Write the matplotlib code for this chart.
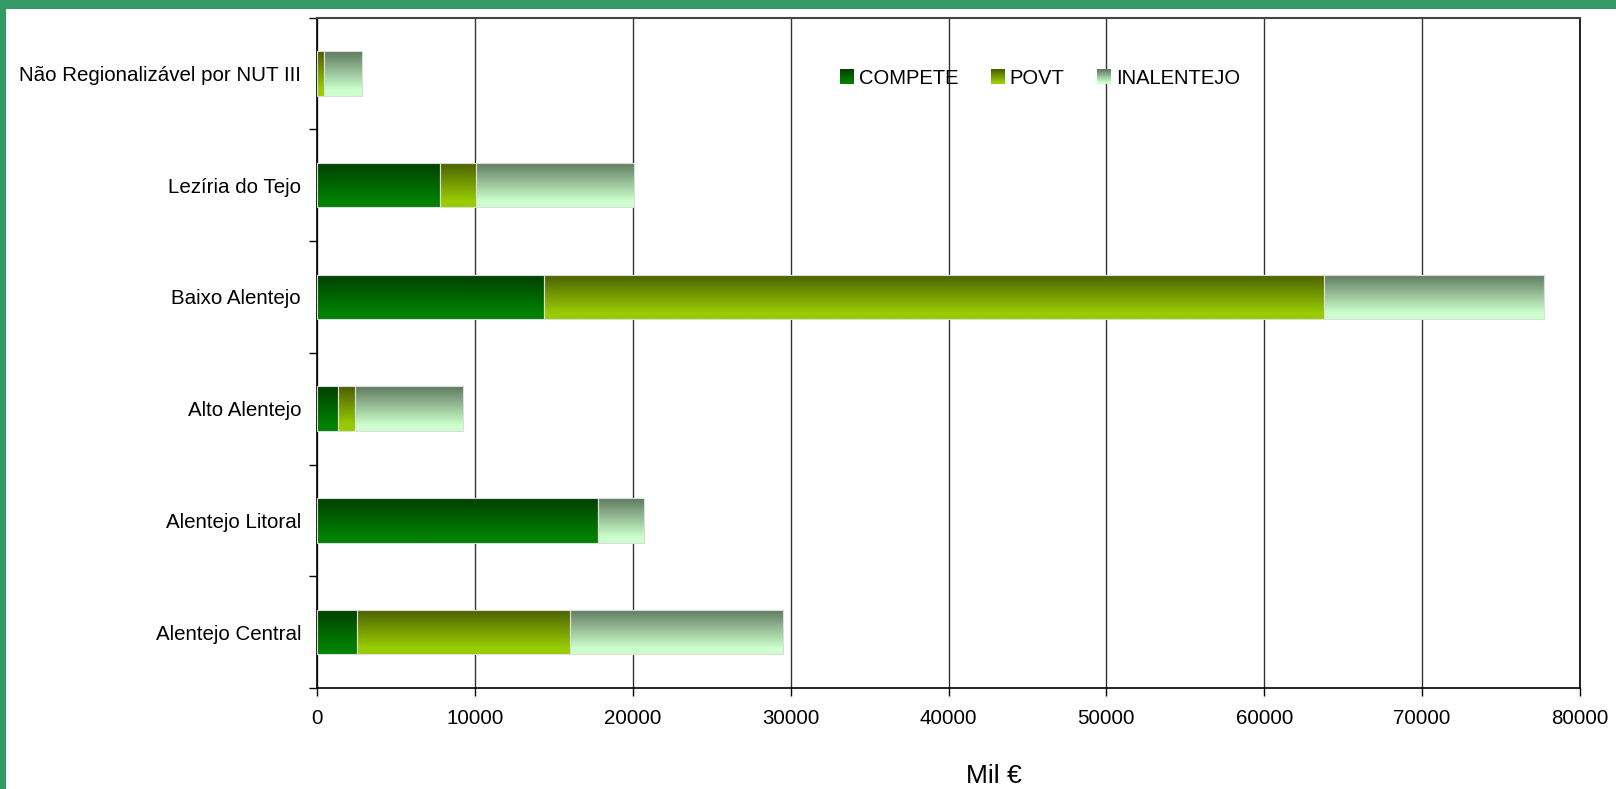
import numpy as np
import matplotlib
matplotlib.use("Agg")
import matplotlib.pyplot as plt
from matplotlib.patches import Rectangle, Patch
from matplotlib.legend_handler import HandlerBase
from matplotlib.colors import to_rgb

plt.rcParams['font.family'] = ['Liberation Sans', 'DejaVu Sans']

# Data (thousand euro), bottom to top as in the chart
regions = ["Alentejo Central", "Alentejo Litoral", "Alto Alentejo",
           "Baixo Alentejo", "Lezíria do Tejo", "Não Regionalizável por NUT III"]
compete = [2560, 17830, 1330, 14350, 7770, 0]
povt = [13450, 0, 1060, 49420, 2290, 450]
inalentejo = [13530, 2910, 6880, 13980, 10030, 2400]

series_names = ["COMPETE", "POVT", "INALENTEJO"]
x_ticks = [0, 10000, 20000, 30000, 40000, 50000, 60000, 70000, 80000]

# gradient colours: (top, bottom)
grads = [("#004000", "#008000"),
         ("#4a5f00", "#99cc00"),
         ("#5f7a5f", "#ccffcc")]


def gradient_img(top, bottom, n=64):
    t = np.linspace(0, 1, n)[:, None]
    t = np.clip(t * 1.15, 0, 1)  # reaches the light colour a bit before the bottom
    c0 = np.array(to_rgb(top))
    c1 = np.array(to_rgb(bottom))
    return (c0 * (1 - t) + c1 * t)[:, None, :]


class GradientHandler(HandlerBase):
    # legend box drawn as stacked stripes to fake the gradient
    def __init__(self, top, bottom, n=14):
        super().__init__()
        self.top = np.array(to_rgb(top))
        self.bottom = np.array(to_rgb(bottom))
        self.n = n

    def create_artists(self, legend, orig_handle, xdescent, ydescent,
                       width, height, fontsize, trans):
        arts = []
        for i in range(self.n):
            f = i / (self.n - 1)
            col = self.top * (1 - f) + self.bottom * f
            y0 = -ydescent + height * (1 - (i + 1) / self.n)
            r = Rectangle((-xdescent, y0), width, height / self.n + 0.3,
                          facecolor=col, edgecolor='none', transform=trans)
            arts.append(r)
        return arts


fig = plt.figure(figsize=(16.16, 7.89), dpi=100)
ax = fig.add_axes([317 / 1616, 101 / 789, (1580 - 317) / 1616, (688 - 17.5) / 789])

# green frame on top and left
fig.patches.append(Rectangle((0, 1 - 9 / 789), 1, 9 / 789, transform=fig.transFigure,
                             facecolor="#339966", edgecolor='none', zorder=0))
fig.patches.append(Rectangle((0, 0), 6 / 1616, 1, transform=fig.transFigure,
                             facecolor="#339966", edgecolor='none', zorder=0))

y = np.arange(len(regions))
left = np.zeros(len(regions))
for vals, (top, bottom) in zip([compete, povt, inalentejo], grads):
    bars = ax.barh(y, vals, left=left, height=0.4, facecolor='none',
                   edgecolor='#dcdcdc', linewidth=0.8, zorder=3)
    img = gradient_img(top, bottom)
    for b in bars:
        if b.get_width() <= 0:
            continue
        x0, y0 = b.get_x(), b.get_y()
        im = ax.imshow(img, extent=[x0, x0 + b.get_width(), y0, y0 + b.get_height()],
                       origin='upper', aspect='auto', zorder=2, interpolation='bilinear')
        im.set_clip_path(b)
    left = left + np.array(vals)

ax.set_xlim(0, 80000)
ax.set_ylim(-0.5, len(regions) - 0.5)
ax.set_xticks(x_ticks)
ax.set_xticklabels([str(v) for v in x_ticks])
ax.set_yticks(y)
ax.set_yticklabels(regions)
ax.set_yticks(np.arange(len(regions) + 1) - 0.5, minor=True)

ax.tick_params(axis='y', which='major', length=0, pad=11.5, labelsize=14.8)
ax.tick_params(axis='y', which='minor', length=6, width=1, direction='out')
ax.tick_params(axis='x', length=6, width=1, direction='out', pad=9, labelsize=14.8)

ax.set_axisbelow(True)
ax.grid(axis='x', color='#333333', linewidth=1)
for s in ['left', 'right', 'bottom']:
    ax.spines[s].set_color('black')
    ax.spines[s].set_linewidth(1.2)
ax.spines['top'].set_color('#444444')
ax.spines['top'].set_linewidth(1.5)

fig.text(994 / 1616, 1 - 776 / 789, "Mil €", ha='center', va='center', fontsize=19)

proxies = [Patch(label=n) for n in series_names]
hmap = {p: GradientHandler(t, b) for p, (t, b) in zip(proxies, grads)}
fig.legend(handles=proxies, handler_map=hmap, loc='center', ncol=3,
           bbox_to_anchor=(1040 / 1616, 1 - 78 / 789), frameon=False,
           fontsize=14.5, handlelength=0.7, handleheight=0.7,
           handletextpad=0.25, columnspacing=1.6)

fig.savefig("out.png", dpi=100)
